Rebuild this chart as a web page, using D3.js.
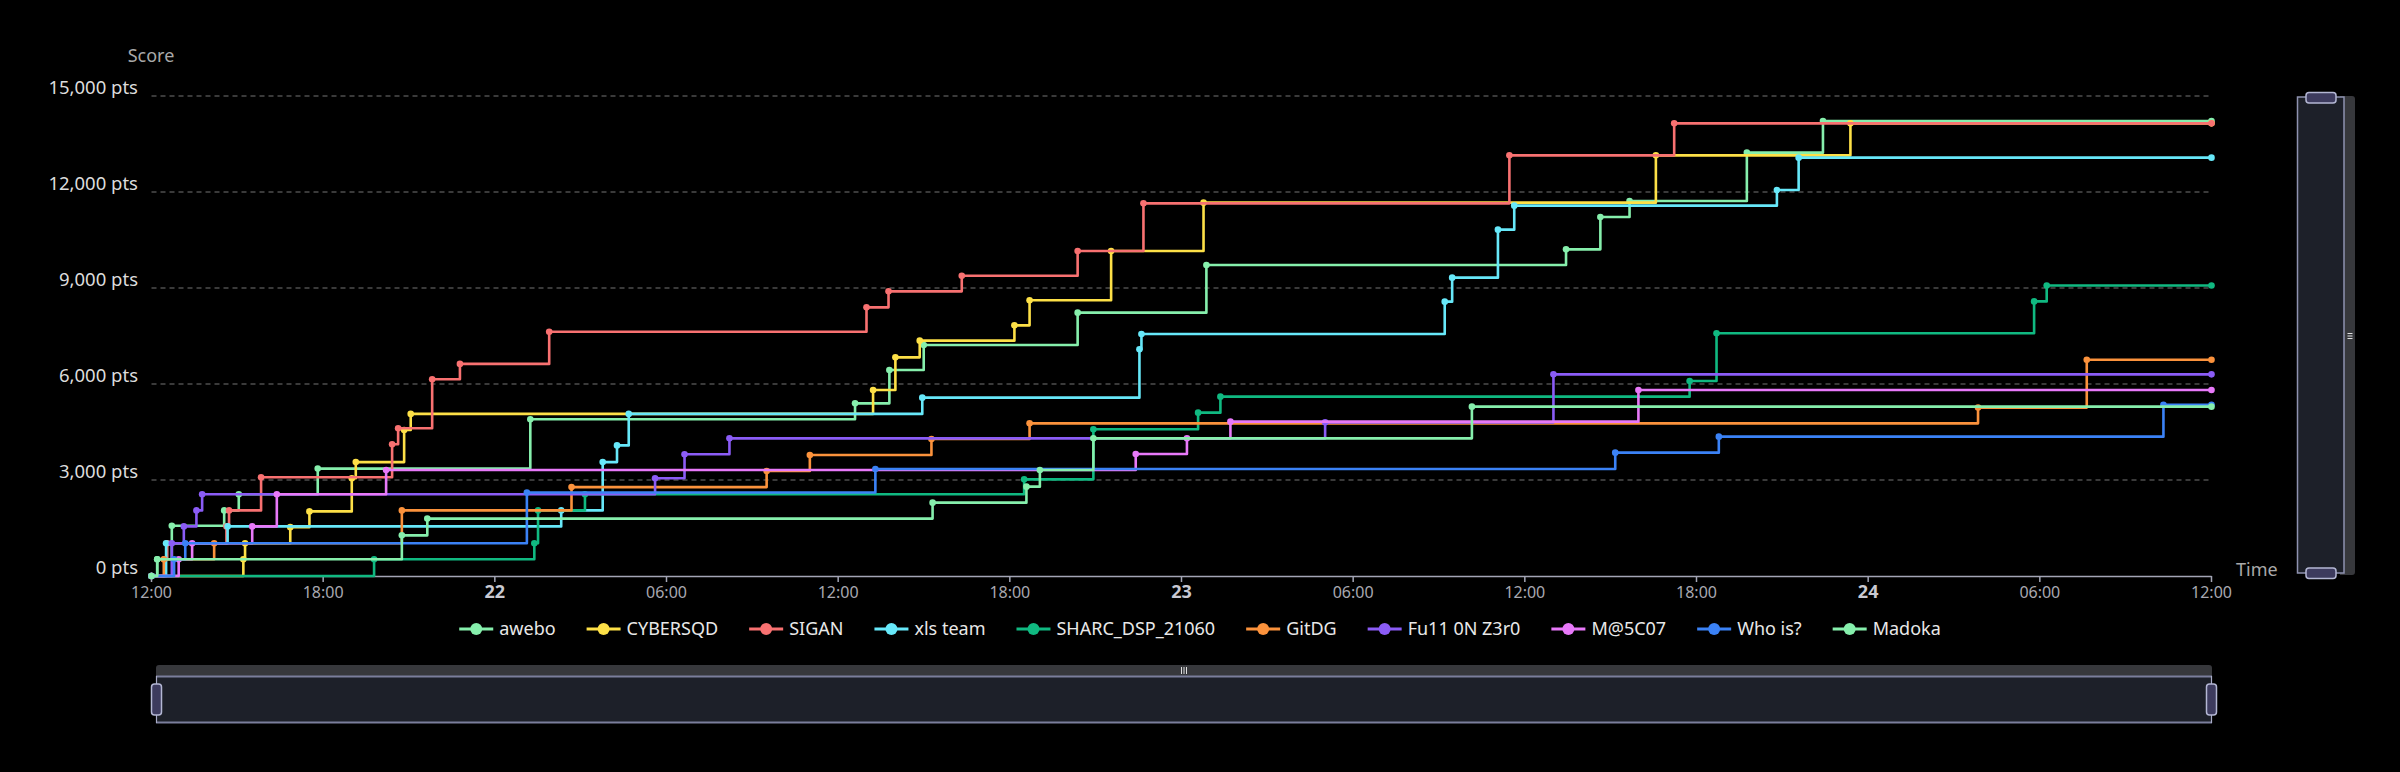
<!DOCTYPE html>
<html><head><meta charset="utf-8">
<script src="https://cdn.jsdelivr.net/npm/d3@7"></script>
<style>html,body{margin:0;padding:0;background:#000;} svg{display:block;font-family:"Noto Sans",sans-serif;}</style>
</head><body><svg id="c" width="2400" height="772"></svg>
<script>
// ---- data (hours after 21st 12:00, cumulative score) ----
const teams = ["awebo","CYBERSQD","SIGAN","xls team","SHARC_DSP_21060","GitDG","Fu11 0N Z3r0","M@5C07","Who is?","Madoka"];
const teamColors = ["#86efac","#fde047","#f87171","#67e8f9","#10b981","#fb923c","#8b5cf6","#e879f9","#3b82f6","#86efac"];
const yTickValues = [0,3000,6000,9000,12000,15000];

const aweboHours = [0,0.2,0.71,2.54,3.05,5.81,13.24,24.59,25.79,26.99,32.37,36.87,49.44,50.64,51.66,55.76,58.42,72];
const aweboScore = [0,522,1572,2050,2553,3357,4897,5396,6437,7219,8229,9719,10208,11219,11719,13229,14219,14219];
const cybersqdHours = [0,3.21,3.27,4.85,5.52,7.0,7.14,8.83,9.06,25.22,26.0,26.85,30.16,30.69,33.54,36.77,52.58,59.38,72];
const cybersqdScore = [0,522,1025,1527,2018,3056,3559,4562,5066,5812,6833,7354,7833,8615,10156,11667,13146,14146,14146];
const siganHours = [0,0.45,0.55,2.62,2.71,3.83,8.41,8.62,9.81,10.78,13.9,24.99,25.76,28.32,32.37,34.67,47.46,53.22,72];
const siganScore = [0,522,1025,1550,2050,3084,4116,4619,6147,6628,7631,8396,8896,9385,10156,11646,13146,14146,14146];
const xlsHours = [0,0.51,2.66,14.32,15.77,16.27,16.68,26.94,34.53,34.6,45.2,45.46,47.06,47.63,56.81,57.57,72];
const xlsScore = [0,1025,1550,2050,3559,4081,5066,5573,7083,7563,8573,9323,10823,11573,12063,13073,13073];
const sharcHours = [0,7.78,13.38,13.51,15.15,30.5,32.92,36.58,37.36,53.76,54.7,65.8,66.24,72];
const sharcScore = [0,522,1025,2050,2553,3021,4584,5104,5604,6094,7584,8581,9078,9078];
const gitdgHours = [0,0.43,2.19,8.75,14.68,21.5,23.01,27.26,30.69,63.84,67.64,72];
const gitdgScore = [0,522,1025,2050,2778,3281,3781,4281,4771,5263,6760,6760];
const fu11Hours = [0,0.71,1.13,1.57,1.77,17.6,18.63,20.2,41.02,49.0,72];
const fu11Score = [0,1025,1550,2050,2553,3056,3803,4302,4802,6302,6302];
const m5c07Hours = [0,0.95,1.42,3.52,4.38,8.2,34.4,36.19,37.71,51.97,72];
const m5c07Score = [0,522,1025,1550,2553,3312,3813,4302,4823,5812,5812];
const whoisHours = [0,0.79,1.18,13.12,25.3,51.16,54.78,70.32,72];
const whoisScore = [0,522,1025,2609,3344,3854,4354,5350,5350];
const madokaHours = [0,0.2,8.75,9.64,27.3,30.58,31.05,32.92,46.15,72];
const madokaScore = [0,522,1270,1794,2292,2792,3313,4302,5292,5292];

const seriesHours = [aweboHours,cybersqdHours,siganHours,xlsHours,sharcHours,gitdgHours,fu11Hours,m5c07Hours,whoisHours,madokaHours];
const seriesScore = [aweboScore,cybersqdScore,siganScore,xlsScore,sharcScore,gitdgScore,fu11Score,m5c07Score,whoisScore,madokaScore];

// ---- chart ----
const start = new Date(Date.UTC(2024,0,21,12,0));
const end = new Date(Date.UTC(2024,0,24,12,0));
const toDate = h => new Date(start.getTime() + h*3600000);

const svg = d3.select("#c");
svg.append("rect").attr("width",2400).attr("height",772).attr("fill","#000");

const x = d3.scaleUtc().domain([start,end]).range([151.5,2211.5]);
const y = d3.scaleLinear().domain([0,15000]).range([576,96]);

// grid
const grid = svg.append("g");
grid.selectAll("line").data(yTickValues.filter(v=>v>0)).join("line")
  .attr("x1",x.range()[0]).attr("x2",x.range()[1])
  .attr("y1",d=>y(d)).attr("y2",d=>y(d))
  .attr("stroke","#4d4d4d").attr("stroke-width",1.3).attr("stroke-dasharray","5,4");

// y labels
const fmt = d3.format(",");
svg.append("g").selectAll("text").data(yTickValues).join("text")
  .attr("x",138).attr("y",d=>y(d)-2)
  .attr("text-anchor","end").attr("fill","#dcdcdc").attr("font-size",18.5)
  .text(d=>fmt(d)+" pts");
svg.append("text").attr("x",151).attr("y",62).attr("text-anchor","middle")
  .attr("fill","#a9a9a9").attr("font-size",18).text("Score");

// x axis
const xTicks = x.ticks(d3.utcHour.every(6));
const xa = svg.append("g");
xa.append("line").attr("x1",x.range()[0]).attr("x2",x.range()[1]).attr("y1",576.5).attr("y2",576.5)
  .attr("stroke","#a3a5b5").attr("stroke-width",1.5);
xa.selectAll("line.t").data(xTicks).join("line").attr("class","t")
  .attr("x1",d=>x(d)).attr("x2",d=>x(d)).attr("y1",576).attr("y2",582)
  .attr("stroke","#a3a5b5").attr("stroke-width",1.5);
xa.selectAll("text").data(xTicks).join("text")
  .attr("x",d=>x(d)).attr("y",598).attr("text-anchor","middle")
  .attr("fill",d=>d.getUTCHours()===0?"#c9c9d2":"#a8a8b0")
  .attr("font-size",d=>d.getUTCHours()===0?18:16)
  .attr("font-weight",d=>d.getUTCHours()===0?"bold":"normal")
  .text(d=>d.getUTCHours()===0?d3.utcFormat("%d")(d):d3.utcFormat("%H:%M")(d));
svg.append("text").attr("x",2236).attr("y",576).attr("fill","#a9a9a9").attr("font-size",18).text("Time");

// series
const line = d3.line().curve(d3.curveStepAfter).x(d=>x(d[0])).y(d=>y(d[1]));
teams.forEach((t,i)=>{
  const pts = seriesHours[i].map((h,j)=>[toDate(h),seriesScore[i][j]]);
  const g = svg.append("g");
  g.append("path").attr("d",line(pts)).attr("fill","none")
    .attr("stroke",teamColors[i]).attr("stroke-width",2.6).attr("stroke-linejoin","round");
  g.selectAll("circle").data(pts).join("circle")
    .attr("cx",d=>x(d[0])).attr("cy",d=>y(d[1])).attr("r",3.3).attr("fill",teamColors[i]);
});

// legend
const lg = svg.append("g");
const items = [];
teams.forEach((t,i)=>{
  const g = lg.append("g");
  g.append("line").attr("x1",0).attr("x2",34).attr("y1",0).attr("y2",0).attr("stroke",teamColors[i]).attr("stroke-width",3);
  g.append("circle").attr("cx",17).attr("cy",0).attr("r",6).attr("fill",teamColors[i]);
  const tx = g.append("text").attr("x",40).attr("y",6).attr("fill","#e8e8e8").attr("font-size",18).text(t);
  const w = 40 + tx.node().getComputedTextLength();
  items.push({g,w});
});
const gap = 31;
const total = d3.sum(items,d=>d.w) + gap*(items.length-1);
let pos = 1200 - total/2;
items.forEach(it=>{ it.g.attr("transform",`translate(${pos},629)`); pos += it.w + gap; });

// horizontal data zoom slider
const hs = svg.append("g");
hs.append("path").attr("d","M156,676 L156,668 Q156,665 159,665 L2209,665 Q2212,665 2212,668 L2212,676 Z").attr("fill","#37383c");
hs.append("rect").attr("x",156).attr("y",676).attr("width",2056).attr("height",47).attr("fill","#1d2029");
hs.append("line").attr("x1",156).attr("x2",2212).attr("y1",676.5).attr("y2",676.5).attr("stroke","#7b7e9c").attr("stroke-width",2);
hs.append("line").attr("x1",156).attr("x2",2212).attr("y1",722.5).attr("y2",722.5).attr("stroke","#7b7e9c").attr("stroke-width",2);
[156.5,2211.5].forEach(px=>{
  hs.append("line").attr("x1",px).attr("x2",px).attr("y1",676).attr("y2",723).attr("stroke","#a9acc8").attr("stroke-width",1.2);
  hs.append("rect").attr("x",px-5).attr("y",684).attr("width",10).attr("height",31).attr("rx",3)
    .attr("fill","#3d3b5e").attr("stroke","#b4b7d4").attr("stroke-width",1.5);
});
[-2.5,0,2.5].forEach(d=>hs.append("line").attr("x1",1184+d).attr("x2",1184+d).attr("y1",667).attr("y2",674).attr("stroke","#e0e0e0").attr("stroke-width",1));

// vertical data zoom slider
const vs = svg.append("g");
vs.append("path").attr("d","M2340,96 L2352,96 Q2355,96 2355,99 L2355,572 Q2355,575 2352,575 L2340,575 Z").attr("fill","#37383c");
vs.append("rect").attr("x",2297.5).attr("y",97).attr("width",46.5).attr("height",476).attr("fill","#1d2029")
  .attr("stroke","#8f92b0").attr("stroke-width",1.5);
[97.5,573].forEach(py=>{
  vs.append("rect").attr("x",2306).attr("y",py-5).attr("width",30).attr("height",10.5).attr("rx",3)
    .attr("fill","#3d3b5e").attr("stroke","#b4b7d4").attr("stroke-width",1.5);
});
[-2.5,0,2.5].forEach(d=>vs.append("line").attr("x1",2347.5).attr("x2",2352.5).attr("y1",336+d).attr("y2",336+d).attr("stroke","#e0e0e0").attr("stroke-width",1));
</script></body></html>
